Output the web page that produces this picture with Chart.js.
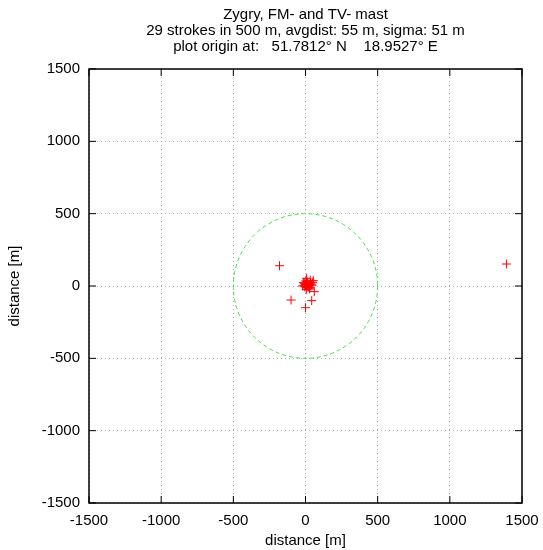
<!DOCTYPE html>
<html>
<head>
<meta charset="utf-8">
<script src="https://cdn.jsdelivr.net/npm/chart.js@4.4.1/dist/chart.umd.min.js"></script>
<style>
  html, body { margin: 0; padding: 0; background: #fff; }
  #wrap { width: 543px; height: 550px; }
</style>
</head>
<body>
<div id="wrap"><canvas id="strikes"></canvas></div>
<script>
/* ===============================
   Data
================================ */
const titleLines = [
  "Zygry, FM- and TV- mast",
  "29 strokes in 500 m, avgdist: 55 m, sigma: 51 m",
  "plot origin at:   51.7812\u00b0 N    18.9527\u00b0 E"
];
const axisTitle = "distance [m]";
const tickValues = [-1500, -1000, -500, 0, 500, 1000, 1500];
const circleRadius = 500;

// stroke positions relative to mast [m]
const strokeX = [-180, -100, 0, 43, 61, 54, 8, 1392,
  -20, -10, -5, 0, 5, 10, 15, 20, 25, 30, 35, 40, -15, 2, 12, 28, 45, -8, 18, 33, 50, 5];
const strokeY = [140, -97, -150, -101, -39, 37, 53, 152,
  0, 5, -5, 10, -10, 2, 15, -3, 8, -12, 20, 12, 25, 35, 28, -20, 5, 18, -8, 40, 25, -25];

/* ===============================
   Plugins
================================ */
const FONT_FAMILY = "'Liberation Sans', Arial, sans-serif";

const frame = {
  id: "frame",
  afterDraw(chart) {
    const { ctx, chartArea: a, scales } = chart;
    const cx = (a.left + a.right) / 2;
    ctx.save();
    // title
    ctx.fillStyle = "#000";
    ctx.font = "15px " + FONT_FAMILY;
    ctx.textAlign = "center";
    ctx.textBaseline = "middle";
    titleLines.forEach((t, i) => ctx.fillText(t, cx, 15 + i * 16));

    // 500 m circle
    const x0 = scales.x.getPixelForValue(0);
    const y0 = scales.y.getPixelForValue(0);
    const rx = scales.x.getPixelForValue(circleRadius) - x0;
    const ry = y0 - scales.y.getPixelForValue(circleRadius);
    ctx.beginPath();
    ctx.setLineDash([4, 3]);
    ctx.strokeStyle = "#44e044";
    ctx.lineWidth = 1;
    ctx.ellipse(x0, y0, rx, ry, 0, 0, Math.PI * 2);
    ctx.stroke();
    ctx.setLineDash([]);

    // border and inward ticks
    ctx.strokeStyle = "#000";
    ctx.lineWidth = 1.5;
    ctx.strokeRect(a.left, a.top, a.right - a.left, a.bottom - a.top);
    ctx.lineWidth = 1;
    const len = 7;
    ctx.beginPath();
    tickValues.forEach(v => {
      const px = scales.x.getPixelForValue(v);
      ctx.moveTo(px, a.bottom); ctx.lineTo(px, a.bottom - len);
      ctx.moveTo(px, a.top); ctx.lineTo(px, a.top + len);
      const py = scales.y.getPixelForValue(v);
      ctx.moveTo(a.left, py); ctx.lineTo(a.left + len, py);
      ctx.moveTo(a.right, py); ctx.lineTo(a.right - len, py);
    });
    ctx.stroke();
    ctx.restore();
  }
};

/* ===============================
   Chart
================================ */
const font = { family: FONT_FAMILY, size: 15 };

function axis(isX) {
  return {
    type: "linear",
    min: -1500,
    max: 1500,
    afterBuildTicks: s => { s.ticks = tickValues.map(v => ({ value: v })); },
    grid: { color: "#b0b0b0", lineWidth: 1, drawTicks: false },
    border: { display: false, dash: [1, 3] },
    ticks: {
      color: "#000", font: font, padding: 9,
      autoSkip: false, maxRotation: 0,
      callback: v => String(v)
    },
    title: { display: true, text: axisTitle, color: "#000", font: font, padding: isX ? 0 : 6 },
    afterFit: s => {
      s.paddingLeft = s.paddingRight = s.paddingTop = s.paddingBottom = 0;
      if (isX) s.height = 47; else s.width = 89;
    }
  };
}

new Chart(document.getElementById("strikes"), {
  type: "scatter",
  data: {
    datasets: [{
      data: strokeX.map((x, i) => ({ x: x, y: strokeY[i] })),
      pointStyle: "cross",
      pointRadius: 4.5,
      borderColor: "#ff0000",
      backgroundColor: "#ff0000",
      borderWidth: 1
    }]
  },
  options: {
    responsive: true,
    maintainAspectRatio: false,
    animation: false,
    layout: { padding: { left: 0, right: 21, top: 69, bottom: 0 } },
    plugins: { legend: { display: false }, tooltip: { enabled: false } },
    scales: { x: axis(true), y: axis(false) }
  },
  plugins: [frame]
});
</script>
</body>
</html>
